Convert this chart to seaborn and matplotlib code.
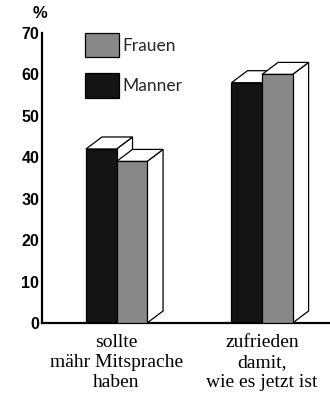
import matplotlib
matplotlib.use("Agg")
import matplotlib.pyplot as plt
from matplotlib.patches import Polygon
import pandas as pd
import seaborn as sns

# Survey answers, percent of respondents
categories = ["sollte\nmähr Mitsprache\nhaben", "zufrieden\ndamit,\nwie es jetzt ist"]
groups = ["Manner", "Frauen"]
manner = [42, 58]
frauen = [39, 60]
y_ticks = [0, 10, 20, 30, 40, 50, 60, 70]

df = pd.DataFrame({
    "category": categories * 2,
    "group": ["Manner"] * len(categories) + ["Frauen"] * len(categories),
    "value": manner + frauen,
})

sns.set_theme(style="white")
plt.rcParams["font.family"] = ["Liberation Sans", "DejaVu Sans"]

fig = plt.figure(figsize=(3.3, 3.96), dpi=100)
ax = fig.add_axes([42 / 330, 73 / 396, 288 / 330, 290 / 396])

colors = {"Manner": "#141414", "Frauen": "#888888"}
sns.barplot(data=df, x="category", y="value", hue="group", hue_order=groups,
            palette=colors, width=0.42, gap=0, saturation=1,
            edgecolor="black", linewidth=0.9, ax=ax)

# Pseudo-3D depth: top and side faces behind each bar
dx, dy = 0.11, 2.9
for i, bar in enumerate(list(ax.patches)):
    x0, w, h = bar.get_x(), bar.get_width(), bar.get_height()
    base_z = 2 if i < len(categories) else 3
    bar.set_zorder(base_z + 0.5)
    side = Polygon([(x0 + w, 0), (x0 + w + dx, dy), (x0 + w + dx, h + dy), (x0 + w, h)],
                   closed=True, facecolor="white", edgecolor="black", linewidth=0.9,
                   zorder=base_z, clip_on=False)
    top = Polygon([(x0, h), (x0 + w, h), (x0 + w + dx, h + dy), (x0 + dx, h + dy)],
                  closed=True, facecolor="white", edgecolor="black", linewidth=0.9,
                  zorder=base_z + 0.1, clip_on=False)
    ax.add_patch(side)
    ax.add_patch(top)

ax.set_xlim(-0.512, 1.467)
ax.set_ylim(0, 70)
ax.set_yticks(y_ticks)
ax.set_xlabel("")
ax.set_ylabel("")

for s in ["top", "right"]:
    ax.spines[s].set_visible(False)
for s in ["left", "bottom"]:
    ax.spines[s].set_color("black")
    ax.spines[s].set_linewidth(1.6)

ax.tick_params(axis="y", direction="in", length=8, width=1.5, pad=2,
               labelsize=11.5, colors="black")
for lab in ax.get_yticklabels():
    lab.set_fontweight("bold")
ax.tick_params(axis="x", length=0, pad=8)
for lab in ax.get_xticklabels():
    lab.set_family(["Liberation Serif", "DejaVu Serif"])
    lab.set_fontsize(14)
    lab.set_linespacing(1.22)
    lab.set_color("black")

handles, labels = ax.get_legend_handles_labels()
ax.legend(handles[::-1], labels[::-1], loc="upper left",
          bbox_to_anchor=(0.149, 1.0), frameon=False, borderpad=0,
          borderaxespad=0, handlelength=1.95, handleheight=1.78,
          labelspacing=0.92, handletextpad=0.2,
          prop={"family": ["Lato", "DejaVu Sans"], "size": 12.5})

fig.text(40 / 330, 1 - 14 / 396, "%", ha="center", va="center",
         fontsize=12, fontweight="bold", color="black")

fig.savefig("out.png", dpi=100)
